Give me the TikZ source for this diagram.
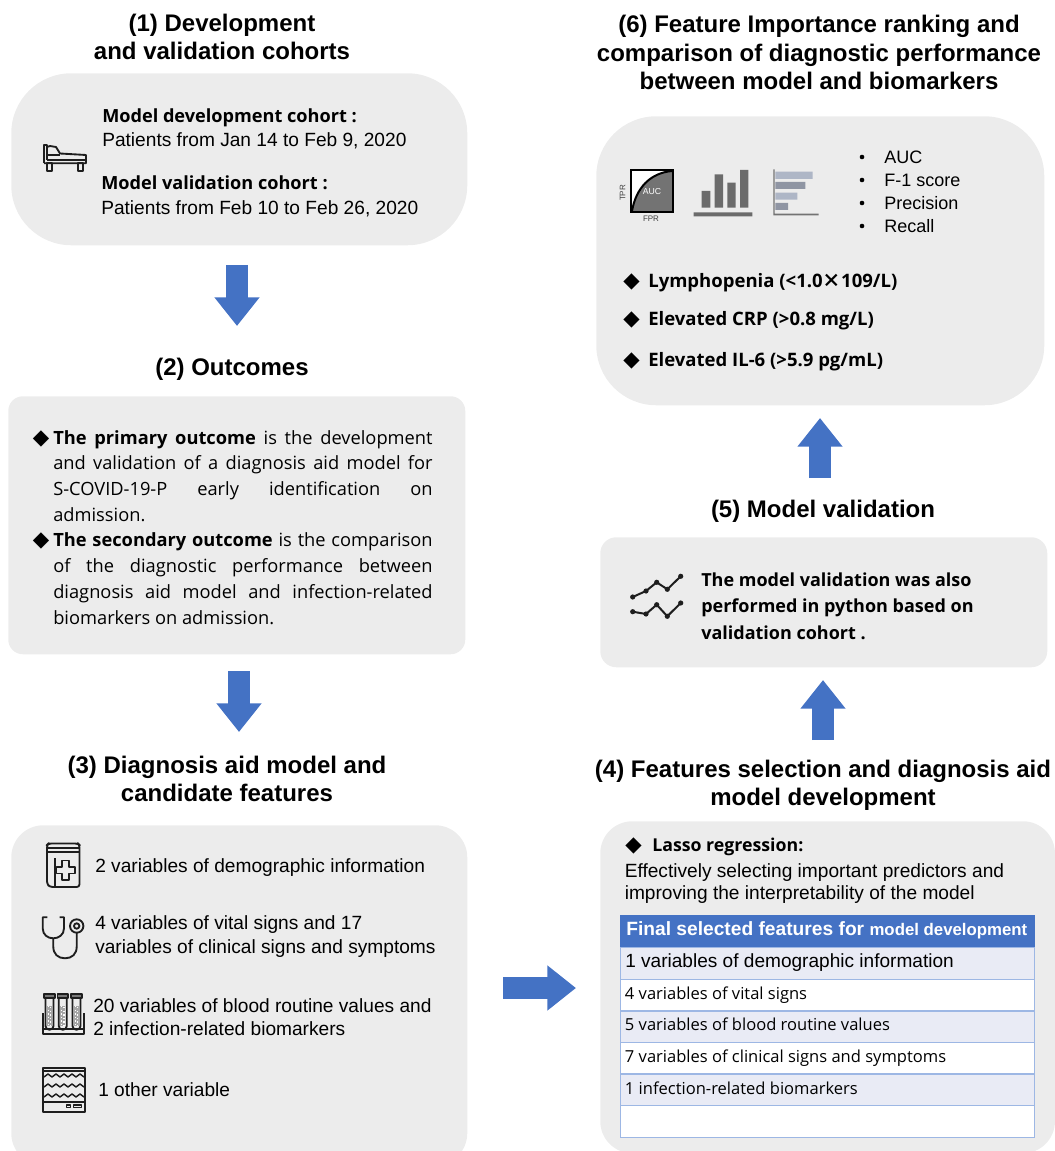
\documentclass[tikz,border=0pt]{standalone}
\usepackage{fontspec}
\setmainfont{Liberation Sans}
\newfontfamily\osans{Open Sans}
\newfontfamily\djv{DejaVu Sans}
\newfontfamily\cjkf{Noto Sans CJK SC}
\usetikzlibrary{arrows.meta}
\definecolor{panelgray}{HTML}{ECECEC}
\definecolor{arrowblue}{HTML}{4472C4}
\definecolor{rowtint}{HTML}{E9EBF5}
\definecolor{rowline}{HTML}{9DB7E4}
\definecolor{icondark}{HTML}{1E1E1E}
\definecolor{hbarlight}{HTML}{AEB6C6}
\definecolor{hbardark}{HTML}{8F95A3}
\newcommand{\jline}[1]{\hbox to 284.5pt{#1}}
\newcommand{\dia}{{\djv\fontsize{16}{16}\selectfont ◆}}
\tikzset{
 panel/.style={fill=panelgray,draw=none,inner sep=0pt,anchor=north west},
 title/.style={anchor=base,inner sep=0pt,align=center,font=\fontsize{18}{21}\selectfont\bfseries},
 txt/.style={anchor=base west,inner sep=0pt,font=\fontsize{14.35}{18}\selectfont},
 opentxt/.style={anchor=base west,inner sep=0pt,font=\osans\fontsize{12.4}{16}\selectfont},
 openbold/.style={anchor=base west,inner sep=0pt,font=\osans\fontsize{13.5}{16}\selectfont\bfseries},
 bigarrow/.style={draw=arrowblue,line width=17pt,-{Triangle[length=21.5pt,width=32.5pt,fill=arrowblue]}},
 icon/.style={draw=icondark,line width=1.4pt,line join=round,fill=none},
 cell/.style={draw=rowline,line width=1pt,inner sep=0pt,anchor=north west,minimum width=310.5pt,minimum height=23.7pt},
}
\begin{document}
\begin{tikzpicture}[x=0.75pt,y=-0.75pt]
\useasboundingbox (0,0) rectangle (1054,1151);
% panels
\node[panel,minimum width=342pt,minimum height=129pt,rounded corners=45pt] (box1) at (11,73) {};
\node[panel,minimum width=342.75pt,minimum height=193.5pt,rounded corners=11pt] (box2) at (8,396) {};
\node[panel,minimum width=342pt,minimum height=255pt,rounded corners=24pt] (box3) at (11,825) {};
\node[panel,minimum width=341pt,minimum height=249pt,rounded corners=24pt] (box4) at (600,821) {};
\node[panel,minimum width=335.25pt,minimum height=97.5pt,rounded corners=12pt] (box5) at (600,537) {};
\node[panel,minimum width=336pt,minimum height=216.75pt,rounded corners=45pt] (box6) at (596,116) {};
% titles
\node[title] (t1) at (222,60) {(1) Development\\and validation cohorts};
\node[title] (t2) at (232,375) {(2) Outcomes};
\node[title] (t3) at (227,801) {(3) Diagnosis aid model and\\candidate features};
\node[title] (t4) at (823,805) {(4) Features selection and diagnosis aid\\model development};
\node[title] (t5) at (823,517) {(5) Model validation};
\node[title,font=\fontsize{18}{21.5}\selectfont\bfseries] (t6) at (819,90) {(6) Feature Importance ranking and\\comparison of diagnostic performance\\between model and biomarkers};
% block arrows
\coordinate (a1s) at (237,265); \coordinate (a1e) at (237,326);
\coordinate (a2s) at (239,671); \coordinate (a2e) at (239,732);
\coordinate (a3s) at (503,988); \coordinate (a3e) at (576,988);
\coordinate (a4s) at (823,740); \coordinate (a4e) at (823,680);
\coordinate (a5s) at (820,478); \coordinate (a5e) at (820,418);
\draw[bigarrow] (a1s) -- (a1e);
\draw[bigarrow] (a2s) -- (a2e);
\draw[bigarrow] (a3s) -- (a3e);
\draw[bigarrow] (a4s) -- (a4e);
\draw[bigarrow] (a5s) -- (a5e);
% box 1
\node[openbold,font=\osans\fontsize{13.6}{16}\selectfont\bfseries] (m1) at (102,123) {Model development cohort :};
\node[txt] (m2) at (102,147) {Patients from Jan 14 to Feb 9, 2020};
\node[openbold,font=\osans\fontsize{13.6}{16}\selectfont\bfseries] (m3) at (101,190) {Model validation cohort :};
\node[txt] (m4) at (101,214.5) {Patients from Feb 10 to Feb 26, 2020};
% bed
\draw[icon] (44,163.3) -- (44,145) -- (47,145) -- (47,160);
\draw[icon] (47,147) -- (50,146) -- (56,147) -- (60,153.5) -- (86,155) -- (86,163.3) -- (44,163.3);
\draw[icon] (47,155) -- (60,155) (47,160) -- (86,160);
\draw[icon] (46.7,163.3) rectangle (51.7,170.7) (78.3,163.3) rectangle (83.3,170.7);
% box 2 text
\node[anchor=north west,inner sep=0pt,align=left,font=\osans\fontsize{13.7}{19.28}\selectfont] (o1) at (53,430) {%
\jline{\llap{\dia\hspace{3pt}}\textbf{The primary outcome} is the development}\\
\jline{and validation of a diagnosis aid model for}\\
\jline{S-COVID-19-P early identification on}\\
admission.\\
\jline{\llap{\dia\hspace{3pt}}\textbf{The secondary outcome} is the comparison}\\
\jline{of the diagnostic performance between}\\
\jline{diagnosis aid model and infection-related}\\
biomarkers on admission.};
% box 3 text
\node[txt] (v1) at (95,872) {2 variables of demographic information};
\node[txt] (v2) at (95,929) {4 variables of vital signs and 17};
\node[txt] (v2b) at (95,953) {variables of clinical signs and symptoms};
\node[txt] (v3) at (93,1012) {20 variables of blood routine values and};
\node[txt] (v3b) at (93,1035) {2 infection-related biomarkers};
\node[txt] (v4) at (98,1096) {1 other variable};
% book icon
\draw[icon,rounded corners=2pt] (47,850) -- (47,845) -- (48.5,843.5) -- (78,843.5) -- (79.5,845) -- (79.5,887) -- (50,887) -- (47,884) -- cycle;
\draw[icon] (48,848) -- (78.5,848) (48,852) -- (79.5,852);
\draw[icon] (55,858) -- (55,887);
\draw[icon] (62,860.5) -- (69,860.5) -- (69,867) -- (75,867) -- (75,873.5) -- (69,873.5) -- (69,880) -- (62,880) -- (62,873.5) -- (56.5,873.5) -- (56.5,867) -- (62,867) -- cycle;
% stethoscope
\draw[icon] (47.3,917.3) -- (42.7,917.3) -- (42.7,928.3) .. controls (42.7,935) and (48,938.3) .. (53.3,938.3) .. controls (58.5,938.3) and (64,935) .. (64,928.3) -- (64,917.3) -- (59.5,917.3);
\draw[icon] (53.3,938.3) -- (53.3,946.7) .. controls (53.3,954) and (58,958.3) .. (65,958.3) .. controls (72,958.3) and (76.7,954) .. (76.7,946.7) -- (76.7,932.7);
\draw[icon] (76.7,926) circle[radius=6.7] (76.7,926) circle[radius=2.7];
% tubes
\foreach \c in {49.5,62.8,76.5}{
 \fill[gray!70] (\c-2.6,1006) rectangle (\c+2.6,1026);
 \draw[white,line width=1.1pt,dash pattern=on 1.1pt off 1.6pt] (\c-1.2,1006) -- (\c-1.2,1026) (\c+1.2,1007) -- (\c+1.2,1026);
 \draw[icon] (\c-4,998) -- (\c-4,1026) .. controls (\c-4,1031) and (\c+4,1031) .. (\c+4,1026) -- (\c+4,998);
 \draw[icon,fill=icondark!60] (\c-5.3,994) rectangle (\c+5.3,998);
}
\draw[icon] (42.7,1013) -- (42.7,1034.3) -- (83.8,1034.3) -- (83.8,1013);
\draw[icon] (42.7,1029) -- (83.8,1029);
% monitor
\draw[icon] (42.7,1068.3) rectangle (85,1111.7);
\draw[icon] (42.7,1071) -- (85,1071) (42.7,1101.7) -- (85,1101.7);
\foreach \y in {1077,1087,1097}{
 \draw[icon,line width=1.1pt] (44,\y) \foreach \k in {1,...,10}{ -- ++(4,{3-6*mod(\k,2)}) };
}
\draw[icon,line width=1pt] (66.7,1105) rectangle (70.7,1107.7) (73.3,1105) rectangle (81.7,1107.7);
% box 4
\node[anchor=base west,inner sep=0pt] (d4) at (625,851) {\dia};
\node[openbold,font=\osans\fontsize{13.3}{16}\selectfont\bfseries] (l1) at (652,851) {Lasso regression:};
\node[txt] (l2) at (624.5,877) {Effectively selecting important predictors and};
\node[txt] (l3) at (624.5,899.5) {improving the interpretability of the model};
% table
\node[cell,fill=arrowblue,draw=arrowblue,minimum height=24pt] (r0) at (620,915) {};
\node[cell,fill=rowtint] (r1) at (620,947) {};
\node[cell,fill=white] (r2) at (620,978.7) {};
\node[cell,fill=rowtint] (r3) at (620,1010.3) {};
\node[cell,fill=white] (r4) at (620,1041.8) {};
\node[cell,fill=rowtint] (r5) at (620,1073.4) {};
\node[cell,fill=white] (r6) at (620,1105) {};
\node[anchor=base west,inner sep=0pt,text=white,font=\bfseries] (h0) at (626,935) {\fontsize{14.4}{16}\selectfont Final selected features for \fontsize{12.6}{16}\selectfont model development};
\node[txt,font=\fontsize{14.3}{17}\selectfont] (c1) at (625,967.5) {1 variables of demographic information};
\node[opentxt] (c2) at (624.7,999.3) {4 variables of vital signs};
\node[opentxt] (c3) at (624.7,1030.7) {5 variables of blood routine values};
\node[opentxt] (c4) at (624.7,1062.3) {7 variables of clinical signs and symptoms};
\node[opentxt] (c5) at (624.7,1094) {1 infection-related biomarkers};
% box 5
\draw[icon,line width=1.5pt] (632.7,597) -- (646,591) -- (656.7,582.3) -- (667.3,589.3) -- (680.7,576.3);
\draw[icon,line width=1.5pt] (632.7,611.7) -- (646,614) -- (656.7,604.7) -- (667.3,616.3) -- (680.7,603);
\foreach \p in {(632.7,597),(646,591),(656.7,582.3),(667.3,589.3),(680.7,576.3),(632.7,611.7),(646,614),(656.7,604.7),(667.3,616.3),(680.7,603)}{
 \fill[icondark] \p circle[radius=2.6];
}
\node[openbold] (p1) at (701,586) {The model validation was also};
\node[openbold] (p2) at (701,612) {performed in python based on};
\node[openbold] (p3) at (701,639) {validation cohort .};
% box 6: ROC
\fill[white] (631,170) rectangle (673,212);
\fill[black!55] (632,211) .. controls (636,188) and (650,173) .. (672,171) -- (672,211) -- cycle;
\draw[black,line width=1.3pt] (631,170) rectangle (673,212);
\draw[black,line width=1.5pt] (632,211) .. controls (636,188) and (650,173) .. (672,171);
\node[anchor=center,inner sep=0pt,text=white,font=\fontsize{6.5}{7}\selectfont] (auc) at (652,192) {AUC};
\node[anchor=center,inner sep=0pt,rotate=90,text=black!75,font=\fontsize{6}{7}\selectfont] (tpr) at (622.5,193) {TPR};
\node[anchor=center,inner sep=0pt,text=black!75,font=\fontsize{6}{7}\selectfont] (fpr) at (651,219) {FPR};
% bars
\fill[black!58] (701.7,191) rectangle (710.3,207.7) (714.7,174.3) rectangle (723,207.7) (727.3,182.7) rectangle (735.7,207.7) (740,170) rectangle (748.3,207.7) (693.7,212.3) rectangle (752.3,216.3);
% horizontal bars
\fill[hbarlight] (775.3,171.7) rectangle (812.7,179) (775.3,192.7) rectangle (797.3,199.7);
\fill[hbardark] (775.3,182) rectangle (805.3,189) (775.3,203) rectangle (788,210);
\fill[black!55] (773.3,169.3) rectangle (774.7,215.3) (773.3,213.7) rectangle (818.7,215.3);
% metrics
\foreach \n/\y/\s in {a/164/AUC,b/187/F-1 score,c/210/Precision,d/233/Recall}{
 \fill[black] (862,\y-7) circle[radius=2.3];
 \node[txt,font=\fontsize{13.5}{17}\selectfont] (met\n) at (884,\y) {\s};
}
\node[anchor=base west,inner sep=0pt] (d6a) at (623,288) {\dia};
\node[anchor=base west,inner sep=0pt] (d6b) at (623,326) {\dia};
\node[anchor=base west,inner sep=0pt] (d6c) at (623,366) {\dia};
\node[openbold,font=\osans\fontsize{13.9}{16}\selectfont\bfseries] (k1) at (648,288) {Lymphopenia (<1.0{\cjkf ×}109/L)};
\node[openbold,font=\osans\fontsize{13.9}{16}\selectfont\bfseries] (k2) at (648,326) {Elevated CRP (>0.8 mg/L)};
\node[openbold,font=\osans\fontsize{13.9}{16}\selectfont\bfseries] (k3) at (648,366) {Elevated IL-6 (>5.9 pg/mL)};
\end{tikzpicture}
\end{document}
